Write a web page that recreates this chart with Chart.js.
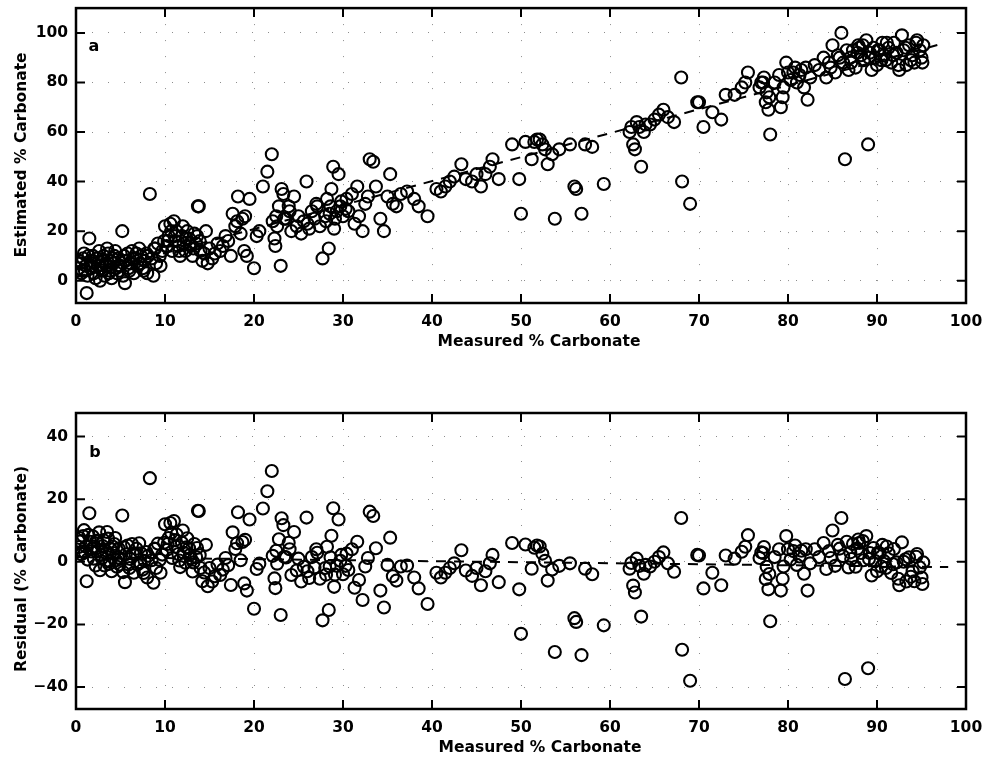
<!DOCTYPE html>
<html><head><meta charset="utf-8">
<script src="https://cdn.jsdelivr.net/npm/chart.js@4.4.0/dist/chart.umd.min.js"></script>
<style>
html,body{margin:0;padding:0;background:#fff;width:984px;height:761px;overflow:hidden}
canvas{position:absolute;left:0}
#ca{top:0}#cb{top:356px}
</style></head><body>
<canvas id="ca" width="984" height="356"></canvas>
<canvas id="cb" width="984" height="405"></canvas>
<script>
// Measured % carbonate (x) and estimated % carbonate (y)
const measured = [
0.3,0.5,0.6,0.8,0.9,1.0,1.1,1.2,1.3,1.5,
1.6,1.7,1.9,2.0,2.1,2.2,2.4,2.5,2.6,2.7,
2.9,3.0,3.1,3.2,3.4,3.5,3.6,3.8,3.9,4.0,
4.2,4.3,4.5,4.6,4.8,5.0,5.2,5.3,5.5,5.6,
5.8,6.0,6.1,6.3,6.5,6.7,6.9,7.1,7.3,7.5,
7.7,7.9,8.0,8.3,8.5,8.7,8.9,9.0,9.2,9.4,
9.5,9.7,9.9,10.0,10.2,10.4,10.6,10.8,11.0,11.2,
11.3,11.5,11.7,11.9,12.1,12.3,12.5,12.7,12.9,13.1,
13.3,13.5,13.7,13.8,14.0,14.2,14.4,14.6,14.8,15.0,
15.3,15.6,15.9,16.2,16.5,16.8,17.1,17.4,17.6,17.9,
18.1,18.2,18.5,18.7,18.9,19.0,19.2,19.5,20.0,20.3,
20.6,21.0,21.5,22.0,22.1,22.3,22.4,22.6,22.8,23.0,
23.1,23.3,23.6,23.9,24.2,24.5,24.8,25.0,25.3,25.6,
25.9,26.2,26.5,26.8,27.1,27.4,27.7,28.0,28.2,28.4,
28.6,28.7,28.9,29.1,29.3,29.5,29.8,30.0,30.3,30.6,
31.0,31.3,31.6,31.8,32.2,32.5,32.8,33.0,33.4,33.7,
34.2,34.6,35.0,35.3,35.6,36.0,36.5,37.2,38.0,38.5,
39.5,40.5,41.0,41.5,42.0,42.5,43.3,43.8,44.5,45.0,
45.5,46.0,46.5,46.8,47.5,49.0,49.8,50.0,50.5,51.2,
51.5,51.8,52.1,52.4,52.7,53.0,53.5,53.8,54.3,55.5,
56.0,56.2,56.8,57.2,58.0,59.3,62.2,62.4,62.6,62.8,
63.0,63.3,63.5,63.8,64.0,64.5,65.0,65.5,66.0,66.5,
67.2,68.0,68.1,69.0,69.8,70.0,70.5,71.5,72.5,73.0,
74.0,74.8,75.2,75.5,76.8,77.0,77.3,77.5,77.6,77.8,
78.0,78.5,79.0,79.2,79.4,79.5,79.8,80.0,80.3,80.6,
81.0,81.5,81.8,82.0,82.2,82.5,83.0,83.5,84.0,84.3,
84.6,85.0,85.3,85.6,86.0,86.2,86.4,86.6,86.8,87.0,
87.3,87.6,87.9,88.2,88.5,88.8,89.0,89.2,89.4,89.6,
89.8,90.0,90.3,90.6,90.8,91.0,91.3,91.6,91.9,92.2,
92.5,92.8,93.0,93.3,93.6,94.0,94.2,94.5,94.8,95.0,
95.2,
0.4,0.7,1.4,1.8,2.3,2.8,3.3,3.7,4.1,4.4,
4.7,4.9,5.4,5.9,6.4,6.8,7.2,7.6,8.1,8.8,
10.3,10.7,11.1,11.6,12.0,12.4,12.8,13.2,13.6,13.9,
28.1,28.5,29.0,29.7,30.4,22.5,23.4,24.0,26.0,27.0,
87.1,87.8,88.4,89.1,90.1,90.5,91.1,91.8,92.4,93.2,
77.2,77.9,80.8,81.3,84.8,85.8,88.0,93.8,94.4,95.1
];
const estimated = [
5,7,3,9,11,4,6,-5,2,17,
8,5,10,3,7,1,9,6,12,0,
4,8,10,2,6,13,11,4,8,1,
7,10,5,3,9,6,20,2,-1,8,
11,4,7,12,3,9,6,13,10,5,
8,11,3,35,9,2,13,7,15,10,
6,12,16,22,14,18,23,12,24,16,
20,14,10,18,15,12,20,17,14,10,
19,15,30,30,12,8,11,20,7,13,
9,11,15,12,14,18,16,10,27,22,
24,34,19,25,12,26,10,33,5,18,
20,38,44,51,24,17,14,22,30,6,
37,35,25,30,20,34,22,26,19,24,
40,21,28,25,30,22,9,26,33,13,
30,37,46,25,28,43,32,26,29,28,
35,23,38,26,20,31,34,49,48,38,
25,20,34,43,31,30,35,36,33,30,
26,37,36,38,40,42,47,41,40,43,
38,43,46,49,41,55,41,27,56,49,
56,57,57,55,53,47,51,25,53,55,
38,37,27,55,54,39,60,62,55,53,
64,62,46,60,63,63,65,67,69,66,
64,82,40,31,72,72,62,68,65,75,
75,78,80,84,78,80,82,72,76,69,
59,80,83,70,74,78,88,84,81,84,
80,85,78,86,73,82,87,85,90,82,
88,95,84,91,100,88,49,93,85,90,
93,86,95,91,89,97,55,92,85,94,
90,87,93,96,91,89,94,88,96,92,
85,99,93,87,95,91,88,97,93,90,
95,
8,4,10,6,9,5,7,3,9,12,
6,4,10,5,9,11,7,4,10,13,
16,20,18,12,22,17,15,13,18,16,
24,27,21,30,33,26,25,28,23,31,
88,92,95,90,93,89,96,91,87,94,
80,74,86,83,86,90,94,89,96,88
];
// Residual = estimated - measured
const residual = estimated.map((e, i) => e - measured[i]);

// Dashed regression lines
const fitX = [0, 97];
const fitEstimated = [1.5, 95.3];
const fitResidX = [0, 98];
const fitResidual = [1.5, -1.7];

// Tick labels
const xTicks = [0,10,20,30,40,50,60,70,80,90,100];
const yTicksA = [0,20,40,60,80,100];
const yTicksB = [-40,-20,0,20,40];

const FONT = 'DejaVu Sans';
Chart.defaults.font.family = FONT;
Chart.defaults.color = '#000';

const framePlugin = {
  id: 'frame',
  afterDatasetsDraw(chart, args, o) {
    const {ctx, chartArea: a, scales: {x, y}} = chart;
    ctx.save();
    ctx.strokeStyle = '#000';
    ctx.lineWidth = 2.5;
    ctx.strokeRect(a.left, a.top, a.right - a.left, a.bottom - a.top);
    ctx.lineWidth = 2;
    const L = 9;
    ctx.beginPath();
    x.ticks.forEach(t => {
      const p = x.getPixelForValue(t.value);
      ctx.moveTo(p, a.bottom); ctx.lineTo(p, a.bottom - L);
      ctx.moveTo(p, a.top); ctx.lineTo(p, a.top + L);
    });
    y.ticks.forEach(t => {
      const p = y.getPixelForValue(t.value);
      ctx.moveTo(a.left, p); ctx.lineTo(a.left + L, p);
      ctx.moveTo(a.right, p); ctx.lineTo(a.right - L, p);
    });
    ctx.stroke();
    ctx.fillStyle = '#000';
    ctx.textAlign = 'center';
    ctx.textBaseline = 'middle';
    ctx.font = 'bold 16px "' + FONT + '"';
    ctx.fillText(o.letter, o.letterX, o.letterY);
    ctx.font = 'bold 15.5px "' + FONT + '"';
    ctx.fillText(o.xTitle, o.xTitleX, o.xTitleY);
    ctx.translate(o.yTitleX, o.yTitleY);
    ctx.rotate(-Math.PI / 2);
    ctx.fillText(o.yTitle, 0, 0);
    ctx.restore();
  }
};

function fmt(v) { return v < 0 ? '\u2212' + Math.abs(v) : String(v); }

function makeChart(id, xs, ys, fx, fy, ymin, ymax, yTicks, padTop, xH, frameOpts) {
  const pts = xs.map((v, i) => ({x: v, y: ys[i]}));
  const line = fx.map((v, i) => ({x: v, y: fy[i]}));
  return new Chart(document.getElementById(id), {
    type: 'scatter',
    data: {
      datasets: [
        {data: line, showLine: true, pointRadius: 0, borderColor: '#000', borderWidth: 2,
         borderDash: [10, 8], fill: false, order: 2},
        {data: pts, pointStyle: 'circle', pointRadius: 6, borderWidth: 2.1,
         borderColor: '#000', backgroundColor: 'rgba(0,0,0,0)', order: 1}
      ]
    },
    options: {
      responsive: false, animation: false, devicePixelRatio: 1,
      layout: {padding: {top: padTop, right: 18, left: 0, bottom: 0}},
      plugins: {legend: {display: false}, tooltip: {enabled: false}, frame: frameOpts},
      scales: {
        x: {
          type: 'linear', min: 0, max: 100,
          afterBuildTicks: s => { s.ticks = xTicks.map(v => ({value: v})); },
          afterFit: s => { s.height = xH; s.paddingLeft = 0; s.paddingRight = 0; },
          ticks: {font: {size: 15.5, weight: 'bold'}, color: '#000', padding: 10, maxRotation: 0, autoSkip: false},
          grid: {color: 'rgba(0,0,0,0.45)', lineWidth: 1, drawTicks: false},
          border: {display: false, dash: [1, 15]}
        },
        y: {
          type: 'linear', min: ymin, max: ymax,
          afterBuildTicks: s => { s.ticks = yTicks.map(v => ({value: v})); },
          afterFit: s => { s.width = 76; s.paddingTop = 0; s.paddingBottom = 0; },
          ticks: {font: {size: 15.5, weight: 'bold'}, color: '#000', padding: 8, autoSkip: false, callback: v => fmt(v)},
          grid: {color: 'rgba(0,0,0,0.45)', lineWidth: 1, drawTicks: false},
          border: {display: false, dash: [1, 15]}
        }
      }
    },
    plugins: [framePlugin]
  });
}

makeChart('ca', measured, estimated, fitX, fitEstimated, -9, 110, yTicksA, 7, 53,
  {letter: 'a', letterX: 94, letterY: 47, xTitle: 'Measured % Carbonate', xTitleX: 539, xTitleY: 342,
   yTitle: 'Estimated % Carbonate', yTitleX: 22, yTitleY: 155});
makeChart('cb', measured, residual, fitResidX, fitResidual, -47, 47.5, yTicksB, 57, 52,
  {letter: 'b', letterX: 95, letterY: 97, xTitle: 'Measured % Carbonate', xTitleX: 540, xTitleY: 392,
   yTitle: 'Residual (% Carbonate)', yTitleX: 22, yTitleY: 213});
</script>
</body></html>
